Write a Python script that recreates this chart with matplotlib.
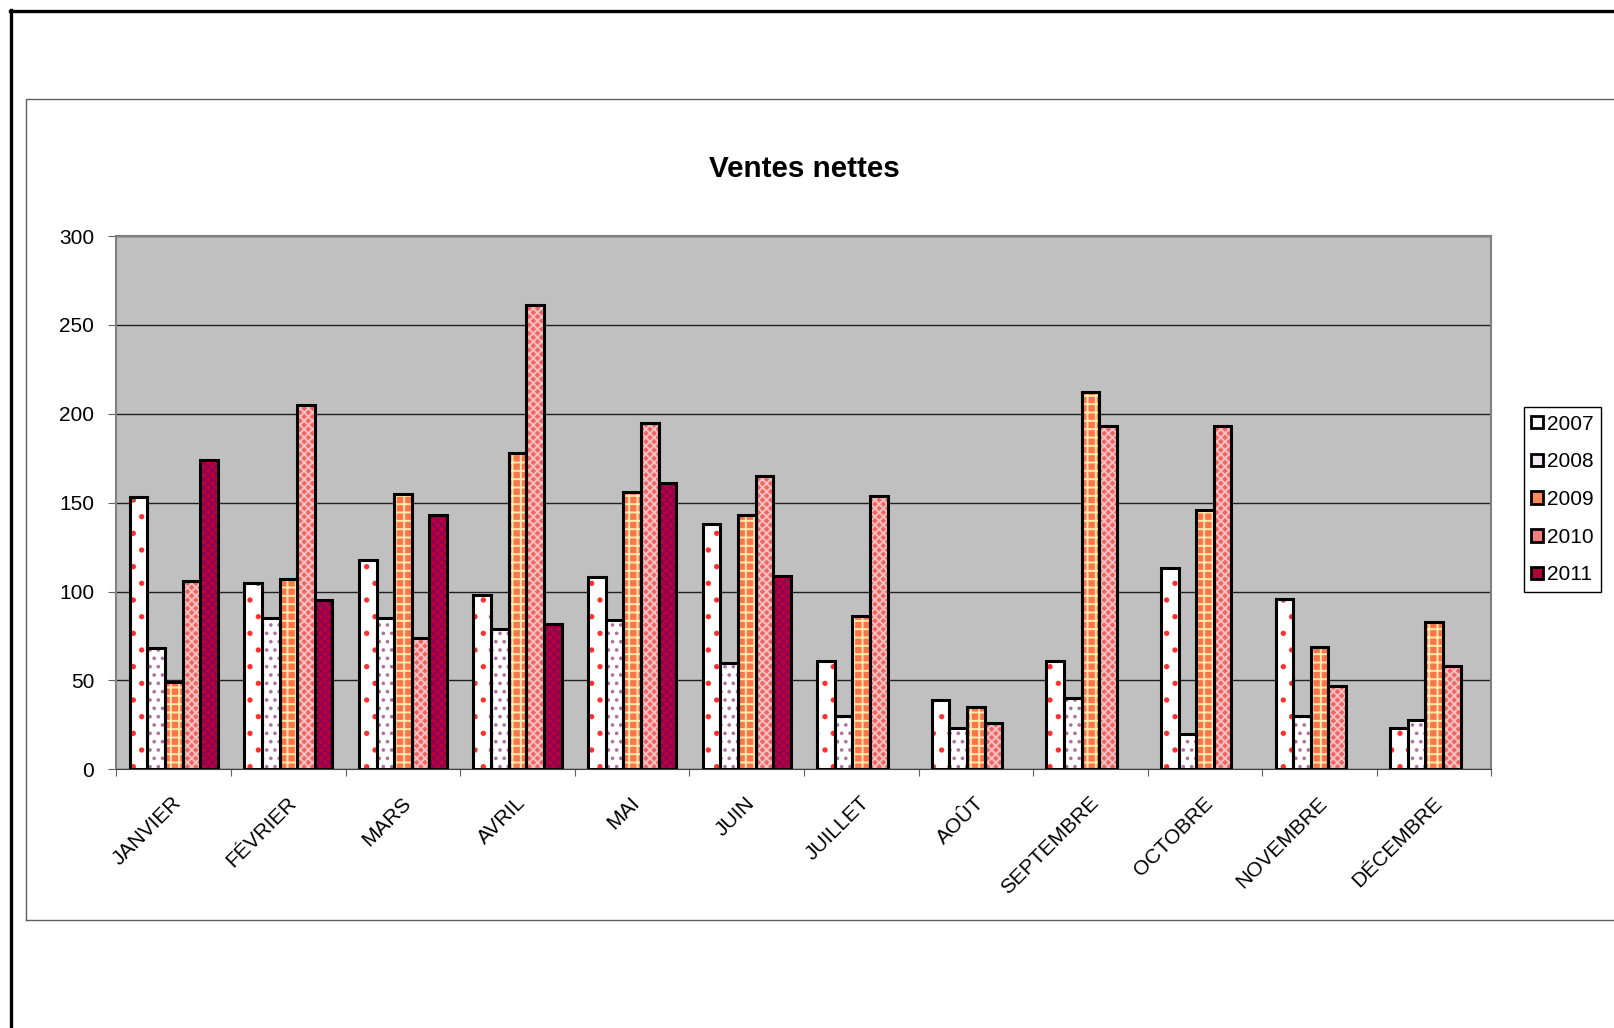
import numpy as np
import matplotlib.pyplot as plt
from matplotlib.patches import Patch
from matplotlib.lines import Line2D
from matplotlib.transforms import ScaledTranslation

plt.rcParams['font.family'] = ['Liberation Sans', 'DejaVu Sans']
plt.rcParams['hatch.linewidth'] = 1.4

months = ['JANVIER', 'FÉVRIER', 'MARS', 'AVRIL', 'MAI', 'JUIN', 'JUILLET',
          'AOÛT', 'SEPTEMBRE', 'OCTOBRE', 'NOVEMBRE', 'DÉCEMBRE']
years = ['2007', '2008', '2009', '2010', '2011']

sales_2007 = [153, 105, 118, 98, 108, 138, 61, 39, 61, 113, 96, 23]
sales_2008 = [68, 85, 85, 79, 84, 60, 30, 23, 40, 20, 30, 28]
sales_2009 = [49, 107, 155, 178, 156, 143, 86, 35, 212, 146, 69, 83]
sales_2010 = [106, 205, 74, 261, 195, 165, 154, 26, 193, 193, 47, 58]
sales_2011 = [174, 95, 143, 82, 161, 109, None, None, None, None, None, None]
series = [sales_2007, sales_2008, sales_2009, sales_2010, sales_2011]

# face colour, hatch pattern, hatch colour, legend swatch colour
styles = [
    ('white', '.', '#FF3030', 'white'),
    ('white', '..', '#B070A0', '#F4E8F0'),
    ('#FF7448', '++', '#FFEAB0', '#FF8A5A'),
    ('#F06464', 'xxxx', '#F4C0C0', '#F08080'),
    ('#BC0038', 'xxxx', '#900052', '#B0003A'),
]

W, H = 1615, 1028
fig = plt.figure(figsize=(W / 100, H / 100), dpi=100)

# page frames
fig.add_artist(Line2D([11 / W, 11 / W], [0, 1 - 10 / H], transform=fig.transFigure, color='black', lw=2.4))
fig.add_artist(Line2D([10 / W, 1], [1 - 11 / H, 1 - 11 / H], transform=fig.transFigure, color='black', lw=2.4))
fig.add_artist(Line2D([26 / W, 26 / W, 1], [1 - 920 / H, 1 - 99 / H, 1 - 99 / H], transform=fig.transFigure, color='#606060', lw=1))
fig.add_artist(Line2D([26 / W, 1], [1 - 920 / H, 1 - 920 / H], transform=fig.transFigure, color='#606060', lw=1))

ax = fig.add_axes([116.5 / W, 1 - 769.3 / H, 1375 / W, 533.3 / H])
ax.set_facecolor('#C0C0C0')

n = len(years)
w = 1 / (n + 1.5)
x = np.arange(len(months)) + 0.5
for k, (vals, (face, hatch, hcol, _)) in enumerate(zip(series, styles)):
    v = np.array([np.nan if s is None else s for s in vals], dtype=float)
    pos = x + (k - (n - 1) / 2) * w
    ax.bar(pos, v, w, color=face, hatch=hatch, edgecolor=hcol, linewidth=0, zorder=2)
    ax.bar(pos, v, w, fill=False, edgecolor='black', linewidth=2.2, zorder=3)

ax.set_xlim(0, len(months))
ax.set_ylim(0, 300)
ax.set_yticks(range(0, 301, 50))
ax.yaxis.grid(True, color='#202020', lw=1)
ax.set_axisbelow(True)
ax.set_xticks(range(len(months) + 1))
ax.set_xticklabels([])
ax.tick_params(axis='x', direction='out', length=5, color='#606060')
ax.tick_params(axis='y', direction='out', length=6, color='#606060', pad=10, labelsize=15)
for side in ['left', 'top', 'right']:
    ax.spines[side].set_color('#808080')
    ax.spines[side].set_linewidth(1.5)
ax.spines['bottom'].set_color('#404040')

# rotated month labels under each group
off = ScaledTranslation(-2 / 100, -24 / 100, fig.dpi_scale_trans)
for xi, m in zip(x, months):
    ax.text(xi, 0, m, rotation=45, ha='right', va='top', rotation_mode='anchor',
            fontsize=15, transform=ax.transData + off)

fig.text(804 / W, 1 - 169 / H, 'Ventes nettes', ha='center', va='center',
         fontsize=21.3, fontweight='bold')

handles = [Patch(facecolor=s[3], edgecolor='black', linewidth=2) for s in styles]
leg = fig.legend(handles, years, loc='center', bbox_to_anchor=(1562.5 / W, 1 - 499.5 / H),
                 fontsize=15, handlelength=0.55, handleheight=0.55, handletextpad=0.2,
                 labelspacing=0.9, borderpad=0.35, fancybox=False, frameon=True,
                 edgecolor='black', framealpha=1)
leg.get_frame().set_linewidth(1)

fig.savefig('out.png', dpi=100)
